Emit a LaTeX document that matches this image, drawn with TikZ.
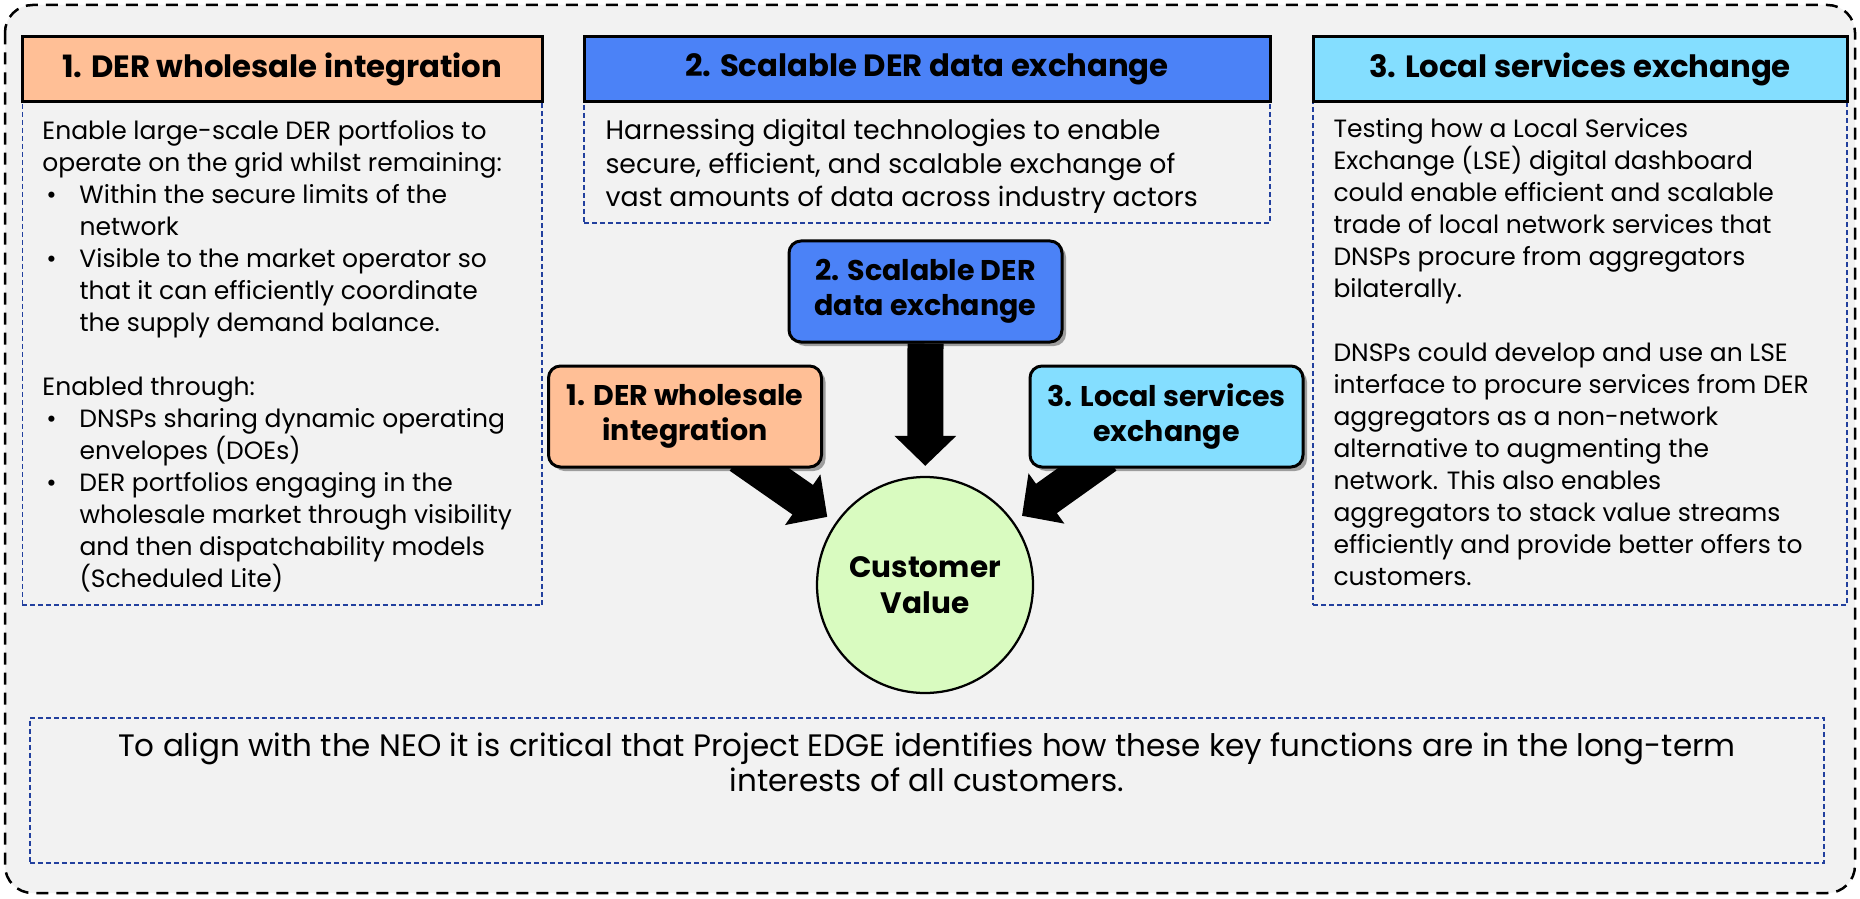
\documentclass[tikz,border=0pt]{standalone}
\usepackage{fontspec}
\setmainfont{Poppins}
\usetikzlibrary{arrows.meta,shadows}
\definecolor{bggray}{HTML}{F2F2F2}
\definecolor{peach}{HTML}{FFBF96}
\definecolor{hblue}{HTML}{4B82F7}
\definecolor{hcyan}{HTML}{84DEFF}
\definecolor{cgreen}{HTML}{D9FBC0}
\definecolor{dblue}{HTML}{22409E}
\pgfdeclarelayer{back}
\pgfdeclarelayer{arrowlayer}
\pgfsetlayers{back,arrowlayer,main}
\newcommand{\bulit}{\makebox[14.8pt][l]{\hspace{1.6pt}\textbullet}}
\newcommand{\indt}{\hspace*{14.8pt}}
\tikzset{
  outerframe/.style={draw=black, line width=1pt, dash pattern=on 4.8pt off 3.2pt, rounded corners=11pt, fill=bggray},
  bodybox/.style={draw=dblue, line width=0.6pt, dash pattern=on 2pt off 1.2pt, fill=bggray, inner sep=0pt},
  hdr/.style={draw=black, line width=1.2pt, inner sep=0pt, minimum height=26pt, font=\fontsize{12.3}{14}\selectfont\bfseries},
  smallbox/.style={draw=black, line width=1.2pt, rounded corners=4.8pt, inner sep=0pt, minimum width=109.2pt, minimum height=40.4pt, align=center, font=\fontsize{11.4}{14}\selectfont\bfseries, drop shadow={shadow xshift=1.6pt, shadow yshift=-1.6pt, opacity=0.35, fill=black}},
  bodytext/.style={inner sep=0pt, anchor=north west, align=left, font=\fontsize{10}{12.8}\selectfont},
  bigarrow/.style={draw=black, line width=14.4pt, -{Triangle[length=12pt,width=24pt]}, shorten >=4pt}
}
\begin{document}
\begin{tikzpicture}[x=0.4pt,y=-0.4pt]
\useasboundingbox (0,0) rectangle (1860,899);
\begin{pgfonlayer}{back}
\fill[white] (0,0) rectangle (1860,899);
\draw[outerframe] (5,5) rectangle (1855,893);
\end{pgfonlayer}

% body boxes
\node[bodybox, minimum width=207.8pt, minimum height=201.2pt] (b1) at (282.25,353.5) {};
\node[bodybox, minimum width=274.4pt, minimum height=48.4pt] (b2) at (927,162.5) {};
\node[bodybox, minimum width=213.6pt, minimum height=201.2pt] (b3) at (1580,353.5) {};
\node[bodybox, minimum width=717.6pt, minimum height=58pt] (b4) at (927,790.5) {};

% headers
\node[hdr, fill=peach, minimum width=207.8pt] (h1) at (282.25,69.5) {1. DER wholesale integration};
\node[hdr, fill=hblue, minimum width=274.4pt] (h2) at (927,69.5) {2. Scalable DER data exchange};
\node[hdr, fill=hcyan, minimum width=213.6pt] (h3) at (1580,69.5) {3. Local services exchange};

% body texts
\node[bodytext] (t1) at (42,120) {Enable large-scale DER portfolios to\\
operate on the grid whilst remaining:\\
\bulit Within the secure limits of the\\
\indt network\\
\bulit Visible to the market operator so\\
\indt that it can efficiently coordinate\\
\indt the supply demand balance.\\[12.8pt]
Enabled through:\\
\bulit DNSPs sharing dynamic operating\\
\indt envelopes (DOEs)\\
\bulit DER portfolios engaging in the\\
\indt wholesale market through visibility\\
\indt and then dispatchability models\\
\indt (Scheduled Lite)};

\node[bodytext, font=\fontsize{10.7}{13.4}\selectfont] (t2) at (605,119) {Harnessing digital technologies to enable\\
secure, efficient, and scalable exchange of\\
vast amounts of data across industry actors};

\node[bodytext] (t3) at (1333,118) {Testing how a Local Services\\
Exchange (LSE) digital dashboard\\
could enable efficient and scalable\\
trade of local network services that\\
DNSPs procure from aggregators\\
bilaterally.\\[12.8pt]
DNSPs could develop and use an LSE\\
interface to procure services from DER\\
aggregators as a non-network\\
alternative to augmenting the\\
network. This also enables\\
aggregators to stack value streams\\
efficiently and provide better offers to\\
customers.};

\node[inner sep=0pt, align=center, font=\fontsize{12.4}{14}\selectfont] (t4) at (927,762) {To align with the NEO it is critical that Project EDGE identifies how these key functions are in the long-term\\
interests of all customers.};

% center diagram
\node[smallbox, fill=hblue] (s2) at (925.5,291.5) {2. Scalable DER\\data exchange};
\node[smallbox, fill=peach] (s1) at (685,416.5) {1. DER wholesale\\integration};
\node[smallbox, fill=hcyan] (s3) at (1166.5,416.5) {3. Local services\\exchange};
\node[circle, draw=black, line width=0.9pt, fill=cgreen, minimum size=86.4pt, inner sep=0pt, align=center, font=\fontsize{11.8}{14.4}\selectfont\bfseries] (cv) at (925,585) {Customer\\Value};

\coordinate (a1) at (740,456);
\coordinate (a3) at (1106,456);
\begin{pgfonlayer}{arrowlayer}
\draw[bigarrow] (s2.south) -- (cv);
\draw[bigarrow] (a1) -- (cv);
\draw[bigarrow] (a3) -- (cv);
\end{pgfonlayer}
\end{tikzpicture}
\end{document}
